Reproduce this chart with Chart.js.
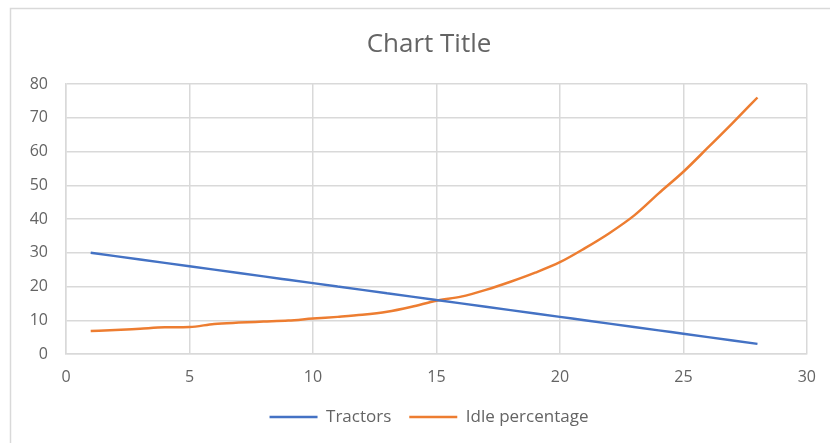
<!DOCTYPE html>
<html>
<head>
<meta charset="utf-8">
<script src="https://cdn.jsdelivr.net/npm/chart.js@4/dist/chart.umd.min.js"></script>
<style>
  html, body { margin: 0; padding: 0; background: #ffffff; }
  #wrap { width: 830px; height: 443px; position: relative; }
</style>
</head>
<body>
<div id="wrap"><canvas id="c" width="830" height="443"></canvas></div>
<script>
// x positions shared by both series
const xValues = [1, 2, 3, 4, 5, 6, 7, 8, 9, 10, 11, 12, 13, 14, 15, 16, 17, 18, 19, 20, 21, 22, 23, 24, 25, 26, 27, 28];
// number of tractors
const tractors = [30, 29, 28, 27, 26, 25, 24, 23, 22, 21, 20, 19, 18, 17, 16, 15, 14, 13, 12, 11, 10, 9, 8, 7, 6, 5, 4, 3];
// idle percentage
const idlePercentage = [6.8, 7.1, 7.5, 7.9, 8.0, 8.9, 9.3, 9.6, 9.9, 10.5, 11.0, 11.6, 12.5, 14.0, 15.8, 17.0, 19.0, 21.4, 24.1, 27.2, 31.3, 35.8, 41.0, 47.6, 54.0, 61.2, 68.5, 76.0];
const seriesNames = ['Tractors', 'Idle percentage'];
const chartTitle = 'Chart Title';

const toPoints = ys => xValues.map((x, i) => ({ x: x, y: ys[i] }));

const textGray = '#646464';
const gridGray = '#d9d9d9';

// light frame around the whole chart
const frame = {
  id: 'frame',
  beforeDraw(chart) {
    const ctx = chart.ctx;
    ctx.save();
    ctx.fillStyle = '#ffffff';
    ctx.fillRect(0, 0, chart.width, chart.height);
    ctx.strokeStyle = '#d9d9d9';
    ctx.lineWidth = 1.5;
    ctx.strokeRect(10.5, 8.5, 900, 600);
    ctx.restore();
  }
};

new Chart(document.getElementById('c'), {
  type: 'line',
  data: {
    datasets: [
      {
        label: seriesNames[0],
        data: toPoints(tractors),
        borderColor: '#4472C4',
        backgroundColor: '#4472C4',
        borderWidth: 2.5,
        pointRadius: 0,
        cubicInterpolationMode: 'monotone',
        fill: false
      },
      {
        label: seriesNames[1],
        data: toPoints(idlePercentage),
        borderColor: '#ED7D31',
        backgroundColor: '#ED7D31',
        borderWidth: 2.5,
        pointRadius: 0,
        cubicInterpolationMode: 'monotone',
        fill: false
      }
    ]
  },
  plugins: [frame],
  options: {
    responsive: false,
    animation: false,
    layout: { padding: { left: 28, right: 0, top: 0, bottom: 7.5 } },
    plugins: {
      title: {
        display: true,
        text: chartTitle,
        color: textGray,
        font: { family: 'Open Sans', size: 26, weight: 'normal' },
        padding: { top: 29, bottom: 23.8 }
      },
      legend: {
        position: 'bottom',
        labels: {
          color: textGray,
          font: { family: 'Open Sans', size: 17 },
          usePointStyle: true,
          pointStyle: 'line',
          pointStyleWidth: 48,
          padding: 18
        }
      },
      tooltip: { enabled: false }
    },
    scales: {
      x: {
        type: 'linear',
        min: 0,
        max: 30,
        ticks: {
          stepSize: 5,
          color: textGray,
          padding: 14,
          font: { family: 'Open Sans', size: 16 }
        },
        grid: { color: gridGray, lineWidth: 1.5, drawTicks: false },
        border: { color: gridGray, width: 1.5 },
        afterFit(scale) { scale.height = 36.5; }
      },
      y: {
        type: 'linear',
        min: 0,
        max: 80,
        ticks: {
          stepSize: 10,
          color: textGray,
          padding: 18,
          font: { family: 'Open Sans', size: 16 }
        },
        grid: { color: gridGray, lineWidth: 1.5, drawTicks: false },
        border: { color: gridGray, width: 1.5 },
        afterFit(scale) { scale.width = 38; }
      },
      // empty margin on the right side of the plot
      yRight: {
        type: 'linear',
        position: 'right',
        min: 0,
        max: 80,
        ticks: { display: false },
        grid: { display: false, drawTicks: false },
        border: { display: false },
        afterFit(scale) { scale.width = 22; }
      }
    }
  }
});
</script>
</body>
</html>
